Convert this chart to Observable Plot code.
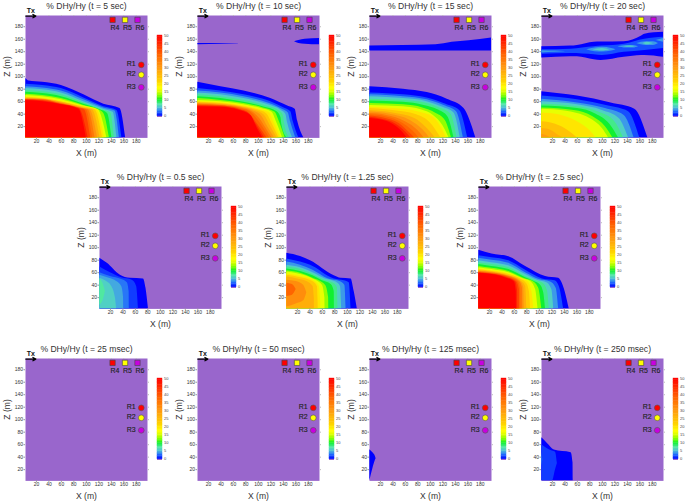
<!DOCTYPE html>
<html><head><meta charset="utf-8">
<script src="https://cdn.jsdelivr.net/npm/d3@7"></script>
<script src="https://cdn.jsdelivr.net/npm/@observablehq/plot@0.6"></script>
<style>
html,body{margin:0;padding:0;background:#fff;overflow:hidden}
#page{position:relative;width:685px;height:504px}
#page svg{position:absolute;overflow:visible;background:none}
</style></head><body><div id="page"></div>
<script>
const tickValues=[20,40,60,80,100,120,140,160,180];
const barTicks=[0,5,10,15,20,25,30,35,40,45,50];
const colorStops=[0,1,2.5,4,5.5,7.5,10,12.5,15,17.5,22,30,38,45,50];
const colorValues=["#0000ff","#0a28ff","#1e64ff","#3c9ae8","#50c8d0","#50e8a0","#10f030","#80ff00","#d8ff00","#ffff00","#ffd000","#ff9a10","#ff6400","#ff2800","#ff0000"];
const background="#9966cc";
const circles=[["R1",188,119,"#ff0000"],["R2",188,103,"#ffff00"],["R3",188,83,"#c800e0"]];
const squares=[["R4",142,191,"#ff0000"],["R5",162,191,"#ffff00"],["R6",182,191,"#c800e0"]];

// level curves: [value, [x, z, x, z, ...]], region below the curve is >= value
const t5=[
[0,[3,97,8,93,30,91,60,86,96,71,128,56,154,49,163,2]],
[2,[3,88,30,86,60,81,96,66,128,52,149,46,157,2]],
[4,[3,84,30,82,60,77,96,63,128,50,146,45,153,2]],
[6,[3,81,30,79,60,74,96,60,128,48,143,43,149,2]],
[8,[3,78,30,76,60,71,96,58,125,47,139,42,145,2]],
[10,[3,75,30,73,60,68,96,56,122,47,134,41,141,2]],
[13,[3,72,30,70,60,65,96,54,120,47,128,41,137,2]],
[16,[3,70,30,68,60,63,96,53,119,47,133,2]],
[20,[3,67,30,65,60,60,96,52,117,47,129,2]],
[23,[3,66.2,30,64.5,60,59.5,96,51,114,47,126,2]],
[27,[3,65.5,30,64,60,59,96,50,110,47,122,2]],
[31,[3,64.7,30,63.5,60,58,93,50,106,47,118,2]],
[35,[3,64,30,63,60,57,90,50,103,47,114,2]],
[38,[3,63.5,30,62.5,60,56.5,90,49.5,100,47,110,2]],
[42,[3,63,30,62,60,56,90,49,97,47,107,2]],
[46,[3,62.5,30,61,60,55.5,89,48.5,103,2]],
[50,[3,62,30,60,60,55,88,48,100,2]]];
const t10=[
[0,[3,91,40,84,77,77,120,65,147,53,159,48,163,29,173,2]],
[2,[3,81,40,77,77,71,120,60,143,49,152,44,156,28,165,2]],
[4,[3,77,40,74,77,68,118,57,140,47,148,42,152,27,160,2]],
[6,[3,74,40,71,77,65,116,55,137,46,144,40,147,26,155,2]],
[8,[3,71,40,68,77,62,113,53,134,45,140,38,142,25,150,2]],
[10,[3,68,40,65,77,59,110,51,130,44,136,35,138,22,146,2]],
[13,[3,65,40,62,77,57,108,50,127,43,133,30,143,2]],
[16,[3,62,40,60,77,55,105,49,122,43,129,28,139,2]],
[20,[3,60,40,58,77,53,100,48,118,42,125,27,136,2]],
[23,[3,59,40,57,76,52,98,47,114,40,122,25,133,2]],
[27,[3,58,40,56,75,51,95,46,110,38,119,22,130,2]],
[31,[3,57,40,55,74,50.5,92,45,106,36,115,20,126,2]],
[35,[3,56,40,54,72,50,90,44,102,33,112,18,122,2]],
[38,[3,55,40,53.5,71,49,88,43,99,31,118,2]],
[42,[3,54,40,53,70,48,85,42,96,28,114,2]],
[46,[3,53,40,52,70,47,86,40,97,23,110,2]],
[50,[3,52,40,51,70,46,88,38,98,18,107,2]]];
const t15=[
[0,[3,84,57,80,95,74.5,127,64,154,49,173,2]],
[2,[3,74,57,71,95,66,125,56,147,46,160,2]],
[4,[3,71,57,68,95,63,122,54,142,44,153,2]],
[6,[3,68,57,65,95,60,118,52,138,42,148,2]],
[8,[3,64,57,62,95,57,115,50,133,40,143,2]],
[10,[3,61,57,59,90,54,112,47,128,36,138,2]],
[13,[3,57,57,55,88,50,108,42,124,30,134,2]],
[16,[3,54,57,52,85,47,105,38,120,22,130,2]],
[20,[3,51,40,49,80,44,105,35,118,18,126,2]],
[23,[3,49,40,46,78,39,100,26,117,2]],
[27,[3,46,40,42,75,33,95,17,108,2]],
[31,[3,43.5,35,40,68,30,88,15,99,2]],
[35,[3,41,30,38,60,28,80,14,90,2]],
[38,[3,39,28,36,55,26,72,13,82,2]],
[42,[3,37,25,34,50,25,65,12,75,2]],
[46,[3,35,22,32,45,24,60,12,69,2]],
[50,[3,33,20,31,40,24,55,12,63,2]]];
const t20=[
[0,[3,76,60,69,114,58,152,48,173,2]],
[2,[3,69,60,63,110,53,142,44,160,2]],
[4,[3,64,60,58,105,49,135,38,151,2]],
[6,[3,60,60,55,100,46,127,33,142,2]],
[8,[3,56,60,52,95,43,120,28,134,2]],
[10,[3,53,60,49,90,40,112,24,126,2]],
[13,[3,50,55,46,85,36,105,20,117,2]],
[16,[3,48,40,45,80,33,100,17,110,2]],
[20,[3,42,30,39,60,28,80,14,90,2]],
[24,[3,28,25,24,45,14,60,2]],
[27,[3,17,18,14,30,6,38,2]],
[30,[3,8,12,5,18,2]]];
const t05=[
[0,[3,83,15,75,36,56,52,51,73,50,77,35,81,2]],
[1.5,[3,69,20,60,38,52,55,48,62,38,65,2]],
[3,[3,60,20,54,38,49,47,44,50,30,50.3,2]],
[4.5,[3,56,18,51,30,46,38,38,41,20,41.3,2]],
[6,[3,51,12,47,22,38,28,20,30,2]]];
const t125=[
[0,[3,91,25,85.8,41,79,79,55,90,51,106,50,111,30,116,2]],
[2,[3,82,25,77,41,72,79,50,95,47,103,44,106,2]],
[4,[3,77,25,72,45,64,70,50,88,46,96,40,98,2]],
[6,[3,72,25,68,45,60,65,50,82,45,89,38,91,2]],
[8,[3,69,25,65,45,57,65,47,78,43,84,36,85,2]],
[10,[3,66,25,62,45,55,60,47,74,41,79,30,79.3,2]],
[13,[3,63,25,59,45,51,65,40,70,20,70.3,2]],
[16,[3,61,25,57,45,50,60,40,64,20,64.3,2]],
[20,[3,58,25,54,45,48,55,38,57,18,57.3,2]],
[23,[3,56,25,52,42,47,52,38,53,18,53.3,2]],
[27,[3,53,20,50,35,46,45,38,47,20,47.3,2]]];
const t25=[
[0,[3,96,24,90,51,85.7,78,70,110,54,131,51,138,40,148,2]],
[2,[3,87,24,84,51,79,78,64,105,50,125,47,132,38,139,2]],
[4,[3,83,24,80,51,75,78,60,100,49,118,45,127,35,131,2]],
[6,[3,79,24,76,51,71,78,57,97,48,112,44,120,33,123,2]],
[8,[3,76,24,73,51,68,78,54,95,47,106,43,113,31,116,2]],
[10,[3,73,24,70,51,65,78,52,92,46,102,40,107,28,110,2]],
[13,[3,70,24,67,51,62,78,50,90,46,99,35,104,2]],
[16,[3,68,24,65,51,60,75,50,86,46,94,33,98,2]],
[20,[3,66,24,63,51,58,72,50,82,45,88,30,91,2]],
[23,[3,64.5,24,62,51,57,71,49,80,42,84,30,86,2]],
[27,[3,63,24,61,51,55,70,47,78,38,80,2]],
[31,[3,62.2,24,60,51,54.5,69,46.5,75,36,76,2]],
[35,[3,61.5,24,59.5,51,54,68,46,73,35,73.3,2]],
[38,[3,60.7,24,58.7,51,53,66,45.5,70,34,70.3,2]],
[42,[3,60,24,58,51,52,64,45,68,33,68.3,2]],
[46,[3,59.5,24,57.5,48,52,62,45,65,32,65.3,2]],
[50,[3,59,24,57,45,52,60,45,63,30,63.3,2]]];
const m250=[
[0,[3,71,12,62,23,51.5,50,47,53,31,53.3,2]]];
const noLevels=[];

// floating bands: [value, [x, top, bottom, ...]]
const f10=[[0,[3,153,151,40,152.6,151.4,68,152,151.7]],[0,[158,156,156,165,158,153,175,160,152,198,161,151]]];
const f15=[[0,[3,149,141,109,151,141,135,155,141,162,157.5,141,198,162,141]]];
const f20=[
[0,[3,148,130,49,149,132,60,150,132,87,155,127,98,155.5,126,135,156,131,163,165,134,168,168,134,198,171,131]],
[2,[3,143,136,50,144,137,87,148,135,100,149,134,135,152,139,168,160,142,198,163,145]],
[4,[3,141.5,138,25,141,139,40,140.5,140]],
[4,[75,143,143,88,146,140,100,147,139.5,115,145,141,122,143,143]],
[4,[125,148,148,138,150,146,150,150,146,158,148,148]],
[4,[155,153,153,170,156,150,182,156,150,190,153,153]],
[4,[186,158,158,198,161,155]],
[6,[85,143,143,100,145,141,112,143,143]],
[6,[135,148,148,145,149,147,152,148,148]],
[6,[165,153,153,172,155,151,182,153,153]]];
const f05=[[7.5,[3,50,8,8,43,15,12,30,30]]];
const f125=[[32,[3,48,5,18,46,10,30,40,15,35,28,28]],[38,[3,43,22,12,41,24,18,33,33]]];
const fm125=[[0,[3,52,2,8,47,22,12,41,35,13,38,37]]];
const fm250=[[1.5,[3,60,2,15,52,2,20,50,2,25,48,20,28,30,30]],[3,[3,48,25,4.5,35,35]]];
const noFloats=[];

const panels=[
{title:"% DHy/Hy (t = 5 sec)",left:25,top:15,levels:t5,floats:noFloats},
{title:"% DHy/Hy (t = 10 sec)",left:196.7,top:15,levels:t10,floats:f10},
{title:"% DHy/Hy (t = 15 sec)",left:369,top:15,levels:t15,floats:f15},
{title:"% DHy/Hy (t = 20 sec)",left:540.7,top:15,levels:t20,floats:f20},
{title:"% DHy/Hy (t = 0.5 sec)",left:99,top:186.3,levels:t05,floats:f05},
{title:"% DHy/Hy (t = 1.25 sec)",left:285.7,top:186.3,levels:t125,floats:f125},
{title:"% DHy/Hy (t = 2.5 sec)",left:477.7,top:186.3,levels:t25,floats:noFloats},
{title:"% DHy/Hy (t = 25 msec)",left:25,top:358.3,levels:noLevels,floats:noFloats},
{title:"% DHy/Hy (t = 50 msec)",left:196.7,top:358.3,levels:noLevels,floats:noFloats},
{title:"% DHy/Hy (t = 125 msec)",left:368.7,top:358.3,levels:noLevels,floats:fm125},
{title:"% DHy/Hy (t = 250 msec)",left:540.7,top:358.3,levels:m250,floats:fm250}];

const font="Liberation Sans, Arial, sans-serif";
const page=document.getElementById("page");
const colorScale={type:"linear",domain:colorStops,range:colorValues,interpolate:"rgb"};
const W=122,H=122.4,ML=24,MR=4,MT=15,MB=24;

function levelRows(list){return list.flatMap(([v,a],i)=>{const r=[];for(let k=0;k<a.length;k+=2)r.push({v,i,x:a[k],z:a[k+1],b:2});return r;});}
function floatRows(list){return list.flatMap(([v,a],i)=>{const r=[];for(let k=0;k<a.length;k+=3)r.push({v,i:1000+i,x:a[k],z:a[k+1],b:a[k+2]});return r;});}

function panel(p){
  const rows=levelRows(p.levels);
  const fl=floatRows(p.floats);
  const series=(rs)=>d3.groups(rs,d=>d.i).map(([i,g])=>Plot.areaY(g,{x:"x",y1:"b",y2:"z",fill:"v",curve:"monotone-x",clip:true}));
  const chart=Plot.plot({
    width:W+ML+MR,height:H+MT+MB,marginLeft:ML,marginRight:MR,marginTop:MT,marginBottom:MB,
    style:{fontFamily:font,background:"none"},
    x:{domain:[2.5,198]},y:{domain:[2,198]},
    color:colorScale,
    marks:[
      Plot.frame({fill:background,stroke:"none"}),
      ...series(rows),...series(fl),
      Plot.axisX(tickValues,{anchor:"bottom",fontSize:5,tickSize:1.5,tickPadding:0.5,stroke:"#999",fill:"#333",label:null}),
      Plot.axisY(tickValues,{anchor:"left",fontSize:5,tickSize:1.5,tickPadding:1,stroke:"#999",fill:"#333",label:null}),
      Plot.axisX(tickValues,{anchor:"top",tickSize:1,tickFormat:null,stroke:"#bbb",label:null,text:null}),
      Plot.axisY(tickValues,{anchor:"right",tickSize:1,tickFormat:null,stroke:"#bbb",label:null,text:null}),
      Plot.dot(circles,{x:d=>d[1],y:d=>d[2],fill:d=>d[3],r:2.9,stroke:"#555",strokeWidth:.6}),
      Plot.dot(squares,{x:d=>d[1],y:d=>d[2],fill:d=>d[3],symbol:"square",r:3,stroke:"#444",strokeWidth:.6}),
      Plot.text(circles,{x:d=>d[1]-16,y:d=>d[2]+1,text:d=>d[0],fontSize:7,fill:"#222",stroke:"#222",strokeWidth:.15}),
      Plot.text(squares,{x:d=>d[1]+4,y:178,text:d=>d[0],fontSize:7,fill:"#222",stroke:"#222",strokeWidth:.15}),
      Plot.text(["Tx"],{x:11,y:205,text:d=>d,fontSize:7,fontWeight:"bold",fill:"#111"}),
      Plot.arrow([0],{x1:3,x2:19,y1:197,y2:197,stroke:"#000",strokeWidth:1.3,headLength:5,bend:0}),
      Plot.text([p.title],{frameAnchor:"top",dy:-13,text:d=>d,fontSize:8.6,fill:"#333"}),
      Plot.text(["X (m)"],{frameAnchor:"bottom",dy:18,text:d=>d,fontSize:8.6,fill:"#333"}),
      Plot.text(["Z (m)"],{frameAnchor:"left",dx:-18,rotate:-90,text:d=>d,fontSize:8.6,fill:"#333"})
    ]});
  chart.style.left=(p.left-ML)+"px";chart.style.top=(p.top-MT)+"px";
  page.appendChild(chart);

  const barRows=d3.range(0,50).map(v=>({v0:v,v1:v+1,v:v+.5}));
  const bar=Plot.plot({
    width:5+14,height:82+4,marginLeft:0,marginRight:14,marginTop:2,marginBottom:2,
    style:{fontFamily:font,background:"none"},
    y:{domain:[-0.8,50]},x:{domain:[0,1],axis:null},color:colorScale,
    marks:[
      Plot.rectY([0],{x1:0,x2:1,y1:-0.8,y2:0,fill:background}),
      Plot.rectY(barRows,{x1:0,x2:1,y1:"v0",y2:"v1",fill:"v",inset:-0.2}),
      Plot.axisY(barTicks,{anchor:"right",fontSize:4,tickSize:0,tickPadding:1.5,fill:"#444",label:null})
    ]});
  bar.style.left=(p.left+W+10)+"px";bar.style.top=(p.top+20-2)+"px";
  page.appendChild(bar);
}
panels.forEach(panel);
</script></body></html>
